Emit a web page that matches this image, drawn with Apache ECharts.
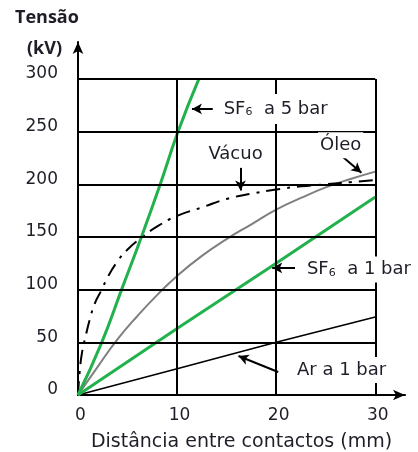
<!DOCTYPE html>
<html><head><meta charset="utf-8">
<script src="https://cdn.jsdelivr.net/npm/echarts@6/dist/echarts.min.js"></script>
<style>html,body{margin:0;padding:0;background:#fff}#c{width:418px;height:452px}</style>
</head><body><div id="c"></div>
<script>
// ---- data ----
const xTicks = [0, 10, 20, 30];
const yTicks = [0, 50, 100, 150, 200, 250, 300];
const gridXs = [10, 20, 30];
const gridYs = [50, 100, 150, 200, 250, 300];

const sf6_5_x = [0, 2.4, 4.4, 6.4, 8.3, 10.1, 12.2];
const sf6_5_y = [0, 50, 100, 150, 200, 250, 300];

const sf6_1_x = [0, 10, 20, 30];
const sf6_1_y = [0, 63, 125, 188];

const ar_x = [0, 10, 20, 30];
const ar_y = [0, 25, 50, 74];

const oleo_x = [0, 2, 4, 6, 8, 10, 12.5, 15, 17.5, 20, 22.5, 25, 27.5, 30];
const oleo_y = [0, 27, 53, 75, 95, 113, 132, 148, 162, 176, 187, 197, 205, 212];

const vac_x = [0, 0.15, 0.4, 0.8, 1.2, 1.7, 2.4, 3, 4, 5, 6.5, 8, 10, 12.5, 15, 17.5, 20, 22.5, 25, 27.5, 30];
const vac_y = [0, 20, 40, 57, 72, 87, 100, 112, 127, 138, 150, 160, 170, 178, 186, 191, 195, 198, 200, 202, 204];

const xName = 'Distância entre contactos (mm)';
const yName1 = 'Tensão';
const yName2 = '(kV)';

// ---- build ----
const pairs = (xs, ys) => xs.map((x, i) => [x, ys[i]]);
const FONT = '"DejaVu Sans"';
const TXT = '#1e1e28';

const gridLines = [];
gridYs.forEach(v => gridLines.push([{coord: [0, v]}, {coord: [30, v]}]));
gridXs.forEach(v => gridLines.push([{coord: [v, 0]}, {coord: [v, 300]}]));

const arrowLines = [
  [{coord: [13.6, 271.5]}, {coord: [11.5, 271.5]}],
  [{coord: [16.4, 216]}, {coord: [16.4, 194]}],
  [{coord: [26.7, 226]}, {coord: [28.6, 211]}],
  [{coord: [21.9, 120.6]}, {coord: [19.6, 120.6]}],
  [{coord: [20.2, 21.8]}, {coord: [16.2, 37]}]
];

const richTxt = {
  a: {fontFamily: FONT, fontSize: 18, color: TXT},
  b: {fontFamily: FONT, fontSize: 11, color: TXT, verticalAlign: 'bottom', padding: [6, 0, 0, 0]}
};
const lbl = (extra) => Object.assign({
  show: true, color: TXT, fontFamily: FONT, fontSize: 18,
  backgroundColor: '#fff', padding: [4, 2, 4, 2], rich: richTxt
}, extra);

const labelPoints = [
  {coord: [14.5, 271.5], value: 0, label: lbl({position: 'right', distance: 0, formatter: '{a|SF}{b|6}{a|  a 5 bar}', padding: [6, 2, 6, 2]})},
  {coord: [15.9, 228], value: 0, label: lbl({position: 'inside', formatter: 'Vácuo'})},
  {coord: [26.5, 237], value: 0, label: lbl({position: 'inside', formatter: 'Óleo'})},
  {coord: [22.9, 119], value: 0, label: lbl({position: 'right', distance: 0, formatter: '{a|SF}{b|6}{a|  a 1 bar}'})},
  {coord: [21.9, 23.7], value: 0, label: lbl({position: 'right', distance: 0, formatter: 'Ar a 1 bar'})}
];

const chart = echarts.init(document.getElementById('c'), null, {renderer: 'canvas'});
chart.setOption({
  animation: false,
  backgroundColor: '#fff',
  grid: {left: 78, top: 42, right: 13, bottom: 57, containLabel: false, outerBoundsMode: 'none'},
  xAxis: {
    type: 'value', min: 0, max: 33, interval: 10,
    axisLine: {show: true, symbol: ['none', 'arrow'], symbolSize: [8, 12], lineStyle: {color: '#000', width: 2}},
    axisTick: {show: false},
    splitLine: {show: false},
    axisLabel: {customValues: xTicks, color: TXT, fontFamily: FONT, fontSize: 17, margin: 12, padding: [0, 0, 0, 5]},
    name: xName, nameLocation: 'middle', nameGap: 38,
    nameTextStyle: {color: TXT, fontFamily: FONT, fontSize: 19}
  },
  yAxis: {
    type: 'value', min: 0, max: 335, interval: 50,
    axisLine: {show: true, symbol: ['none', 'arrow'], symbolSize: [8, 12], lineStyle: {color: '#000', width: 2}},
    axisTick: {show: false},
    splitLine: {show: false},
    axisLabel: {customValues: yTicks, color: TXT, fontFamily: FONT, fontSize: 17, margin: 20,
      verticalAlign: 'bottom', lineHeight: 10}
  },
  graphic: [
    {type: 'text', left: 15, top: 9, style: {text: yName1, font: 'bold 18px "Open Sans"', fill: TXT}},
    {type: 'text', left: 27, top: 40, style: {text: yName2, font: 'bold 18px "Open Sans"', fill: TXT}}
  ],
  series: [
    {
      type: 'line', data: [], z: 1,
      markLine: {silent: true, symbol: ['none', 'none'], label: {show: false},
        lineStyle: {color: '#000', width: 2, type: 'solid'}, data: gridLines}
    },
    {type: 'line', name: 'Ar', data: pairs(ar_x, ar_y), showSymbol: false, smooth: false, z: 3,
      lineStyle: {color: '#000', width: 1.6}},
    {type: 'line', name: 'Óleo', data: pairs(oleo_x, oleo_y), showSymbol: false, smooth: true, z: 3,
      lineStyle: {color: '#7f7f7f', width: 2}},
    {type: 'line', name: 'Vácuo', data: pairs(vac_x, vac_y), showSymbol: false, smooth: true, z: 3,
      lineStyle: {color: '#000', width: 2, type: [14, 7, 3, 7]}},
    {type: 'line', name: 'SF6 1', data: pairs(sf6_1_x, sf6_1_y), showSymbol: false, z: 4,
      lineStyle: {color: '#22b14c', width: 3}},
    {type: 'line', name: 'SF6 5', data: pairs(sf6_5_x, sf6_5_y), showSymbol: false, smooth: true, z: 4,
      lineStyle: {color: '#22b14c', width: 3}},
    {
      type: 'line', data: [], z: 6,
      markLine: {silent: true, symbol: ['none', 'arrow'], symbolSize: [8, 10], label: {show: false},
        lineStyle: {color: '#000', width: 2, type: 'solid'}, data: arrowLines},
      markPoint: {silent: true, symbol: 'circle', symbolSize: 0, data: labelPoints}
    }
  ]
});
</script></body></html>
